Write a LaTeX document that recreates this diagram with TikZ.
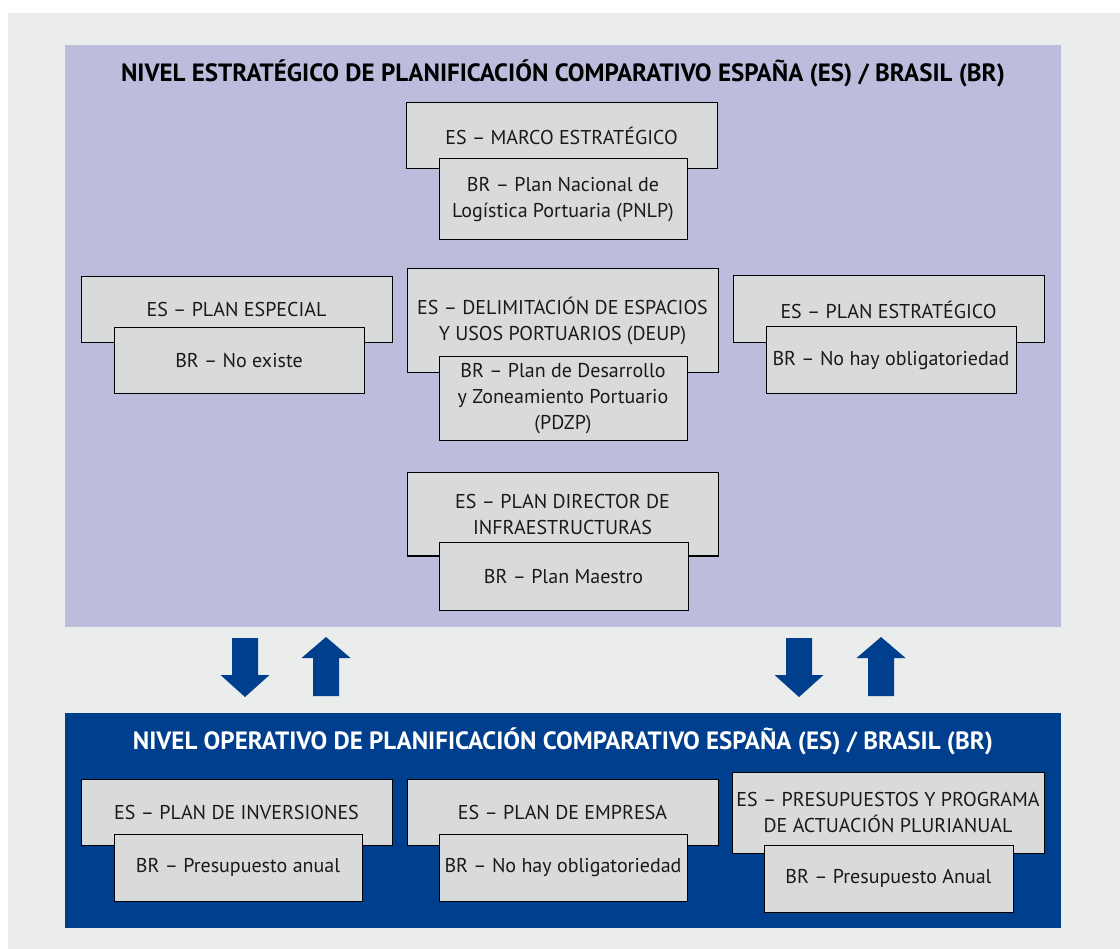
\documentclass[tikz,border=0pt]{standalone}
\usepackage{fontspec}
\setmainfont{PT Sans}
\usepackage{tikz}
\usetikzlibrary{positioning}

\definecolor{pageGray}{HTML}{EBECEC}
\definecolor{stratLila}{HTML}{BCBDDD}
\definecolor{operBlue}{HTML}{003E8E}
\definecolor{boxGray}{HTML}{D9DADC}
\definecolor{txtDark}{HTML}{1A1A1A}

\begin{document}
\begin{tikzpicture}[x=1pt, y=-1pt,
	esbox/.style={rectangle, draw=black, line width=1pt, fill=boxGray, text=txtDark, inner sep=0pt, align=center, font=\fontsize{20}{26}\selectfont},
	brbox/.style={esbox},
	levelTitle/.style={inner sep=0pt, font=\bfseries\fontsize{25}{30}\selectfont}]
				\useasboundingbox (0,0) rectangle (1120,949);
				\fill[pageGray] (8,13) rectangle (1120,949);
				\fill[stratLila] (65,45) rectangle (1061,627);
				\fill[operBlue] (65,713) rectangle (1061,928);
				
				\node[levelTitle, text=black] (TE) at (563,73) {NIVEL ESTRATÉGICO DE PLANIFICACIÓN COMPARATIVO ESPAÑA (ES) / BRASIL (BR)};
				\node[levelTitle, text=white] (TO) at (563,741) {NIVEL OPERATIVO DE PLANIFICACIÓN COMPARATIVO ESPAÑA (ES) / BRASIL (BR)};
				
				% nivel estrategico
				\node[esbox, minimum width=311, minimum height=66] (ES1) at (561.5,136) {ES -- MARCO ESTRATÉGICO};
				\node[brbox, minimum width=248, minimum height=81] (BR1) at (563,199.5) {BR -- Plan Nacional de\\Logística Portuaria (PNLP)};
				\node[esbox, minimum width=311, minimum height=66] (ES2) at (236.5,310) {ES -- PLAN ESPECIAL};
				\node[brbox, minimum width=250, minimum height=66] (BR2) at (239,361) {BR -- No existe};
				\node[esbox, minimum width=311, minimum height=104] (ES3) at (562.5,321) {ES -- DELIMITACIÓN DE ESPACIOS\\Y USOS PORTUARIOS (DEUP)};
				\node[brbox, minimum width=248, minimum height=84] (BR3) at (563,399) {BR -- Plan de Desarrollo\\y Zoneamiento Portuario\\(PDZP)};
				\node[esbox, minimum width=311, minimum height=67] (ES4) at (888.5,309.5) {ES -- PLAN ESTRATÉGICO};
				\node[brbox, minimum width=250, minimum height=67] (BR4) at (891,360.5) {BR -- No hay obligatoriedad};
				\node[esbox, minimum width=311, minimum height=83] (ES5) at (562.5,514.5) {ES -- PLAN DIRECTOR DE\\INFRAESTRUCTURAS};
				\node[brbox, minimum width=249, minimum height=67] (BR5) at (563.5,576.5) {BR -- Plan Maestro};
				
				% flechas entre niveles
				\foreach \ax in {245,799}
					\fill[operBlue] (\ax-13,638) -- (\ax+13,638) -- (\ax+13,675) -- (\ax+24.5,675) -- (\ax,697) -- (\ax-24.5,675) -- (\ax-13,675) -- cycle;
				\foreach \ax in {326,881}
					\fill[operBlue] (\ax-13,696) -- (\ax+13,696) -- (\ax+13,658) -- (\ax+24.5,658) -- (\ax,637) -- (\ax-24.5,658) -- (\ax-13,658) -- cycle;
				
				% nivel operativo
				\node[esbox, minimum width=311, minimum height=66] (ES6) at (236.5,812) {ES -- PLAN DE INVERSIONES};
				\node[brbox, minimum width=248, minimum height=67] (BR6) at (238,867.5) {BR -- Presupuesto anual};
				\node[esbox, minimum width=311, minimum height=66] (ES7) at (562.5,812) {ES -- PLAN DE EMPRESA};
				\node[brbox, minimum width=248, minimum height=67] (BR7) at (563,867.5) {BR -- No hay obligatoriedad};
				\node[esbox, minimum width=312, minimum height=81] (ES8) at (888,812.5) {ES -- PRESUPUESTOS Y PROGRAMA\\DE ACTUACIÓN PLURIANUAL};
				\node[brbox, minimum width=249, minimum height=67] (BR8) at (888.5,878.5) {BR -- Presupuesto Anual};
			\end{tikzpicture}
\end{document}
